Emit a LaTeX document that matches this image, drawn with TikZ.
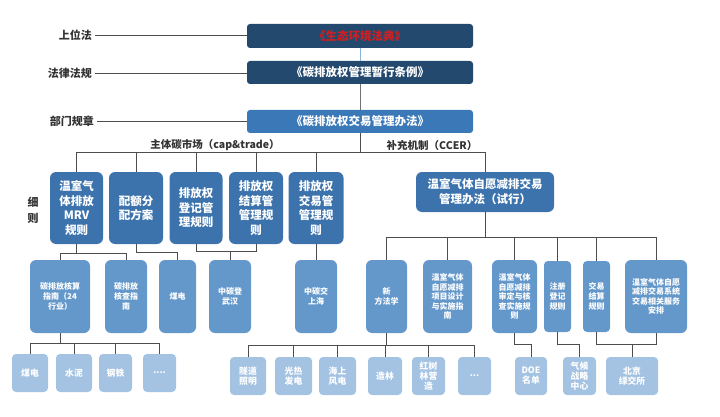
\documentclass[tikz,border=0pt]{standalone}
\usepackage{fontspec}
\newfontfamily\cjk{Noto Sans CJK SC}
\definecolor{navy}{HTML}{24496F}
\definecolor{midblue}{HTML}{3A78B8}
\definecolor{lvthree}{HTML}{3D73AD}
\definecolor{lvfour}{HTML}{6498CB}
\definecolor{lvfive}{HTML}{A4C3E3}
\definecolor{lineC}{HTML}{4D4D4D}
\definecolor{linkblue}{HTML}{8DB3D8}
\definecolor{lawred}{HTML}{D11F1F}
\definecolor{textC}{HTML}{333333}
\begin{document}
\begin{tikzpicture}[x=1pt,y=-1pt,
  every node/.style={font=\cjk},
  conn/.style={draw=lineC, line width=0.9pt},
  topbox/.style={rounded corners=3pt, text=white, inner sep=0pt, minimum width=226pt, minimum height=23pt,
    font=\cjk\bfseries\fontsize{11.5}{14}\selectfont},
  lvl3/.style={fill=lvthree, rounded corners=6pt, text=white, inner sep=0pt, align=center,
    minimum height=72pt, font=\cjk\bfseries\fontsize{11.5}{14.5}\selectfont},
  lvl4/.style={fill=lvfour, rounded corners=6pt, text=white, inner sep=0pt, align=center,
    minimum height=73pt, font=\cjk\bfseries\fontsize{8}{9.6}\selectfont},
  lvl5/.style={fill=lvfive, rounded corners=4pt, text=white, inner sep=0pt, align=center,
    minimum height=38pt, font=\cjk\bfseries\fontsize{8.8}{10}\selectfont},
  sidelab/.style={text=textC, inner sep=3pt, font=\cjk\bfseries\fontsize{11}{13}\selectfont},
  branchlab/.style={text=textC, inner sep=0pt, font=\cjk\bfseries\fontsize{10.5}{12}\selectfont}
]
\useasboundingbox (0,0) rectangle (720,417);

% top three
\node[topbox, fill=navy, minimum height=24pt] (b1) at (360,36) {\textcolor{lawred}{《生态环境法典》}};
\node[topbox, fill=navy] (b2) at (360,72.5) {《碳排放权管理暂行条例》};
\node[topbox, fill=midblue] (b3) at (360,121.5) {《碳排放权交易管理办法》};

% side labels
\node[sidelab, anchor=east] (s1) at (95,35) {上位法};
\node[sidelab, anchor=east] (s2) at (95,73) {法律法规};
\node[sidelab, anchor=east] (s3) at (97,121) {部门规章};
\node[sidelab, align=center, font=\cjk\bfseries\fontsize{11}{16}\selectfont] (s4) at (33,210) {细\\则};

\draw[conn] (s1.east) -- (s1.east -| b1.west);
\draw[conn] (s2.east) -- (s2.east -| b2.west);
\draw[conn] (s3.east) -- (s3.east -| b3.west);
\draw[draw=linkblue, line width=0.8pt] (b1.south) -- (b2.north);
\draw[draw=lineC!80, line width=0.9pt] (b2.south) -- (b3.north);

% branch labels
\node[branchlab] (bl1) at (215,145) {主体碳市场（cap\&trade）};
\node[branchlab] (bl2) at (432,145) {补充机制（CCER）};

% level 3
\node[lvl3, minimum width=53pt] (A) at (76.5,208) {温室气\\体排放\\MRV\\规则};
\node[lvl3, minimum width=54pt] (B) at (136,208) {配额分\\配方案};
\node[lvl3, minimum width=53pt] (C) at (196,208) {排放权\\登记管\\理规则};
\node[lvl3, minimum width=54pt] (D) at (256,208) {排放权\\结算管\\管理规\\则};
\node[lvl3, minimum width=55pt] (E) at (316,208) {排放权\\交易管\\管理规\\则};
\node[lvl3, minimum width=138pt, minimum height=40pt, font=\cjk\bfseries\fontsize{11.5}{15}\selectfont] (CC) at (485,192) {温室气体自愿减排交易\\管理办法（试行）};

% level 4 left
\node[lvl4, minimum width=60pt] (L1) at (60,296.5) {碳排放核算\\指南（24\\行业）};
\node[lvl4, minimum width=42pt] (L2) at (126,296.5) {碳排放\\核查指\\南};
\node[lvl4, minimum width=37pt] (L3) at (177.5,296.5) {煤电};
\node[lvl4, minimum width=42pt] (L4) at (230,296.5) {中碳登\\武汉};
\node[lvl4, minimum width=42pt] (L5) at (316,296.5) {中碳交\\上海};

% level 4 right
\node[lvl4, minimum width=41pt] (R1) at (386.5,296.5) {新\\方法学};
\node[lvl4, minimum width=49pt] (R2) at (447.5,296.5) {温室气体\\自愿减排\\项目设计\\与实施指\\南};
\node[lvl4, minimum width=45pt] (R3) at (514.5,296.5) {温室气体\\自愿减排\\审定与核\\查实施规\\则};
\node[lvl4, minimum width=27pt, minimum height=71pt, rounded corners=4pt] (R4) at (557.5,296.5) {注册\\登记\\规则};
\node[lvl4, minimum width=27pt, minimum height=71pt, rounded corners=4pt] (R5) at (596.5,296.5) {交易\\结算\\规则};
\node[lvl4, minimum width=62pt] (R6) at (656,296.5) {温室气体自愿\\减排交易系统\\交易相关服务\\安排};

% level 5 left
\node[lvl5, minimum width=36pt] (F1) at (30,373) {煤电};
\node[lvl5, minimum width=36pt] (F2) at (74,373) {水泥};
\node[lvl5, minimum width=33pt] (F3) at (115.5,373) {钢铁};
\node[lvl5, minimum width=33pt] (F4) at (159.5,373) {....};

% level 5 right
\node[lvl5, minimum width=36pt] (G1) at (248,376) {隧道\\照明};
\node[lvl5, minimum width=37pt] (G2) at (293.5,376) {光热\\发电};
\node[lvl5, minimum width=37pt] (G3) at (337.5,376) {海上\\风电};
\node[lvl5, minimum width=34pt] (G4) at (385,376) {造林};
\node[lvl5, minimum width=33pt] (G5) at (428.5,376) {红树\\林营\\造};
\node[lvl5, minimum width=33pt] (G6) at (474.5,376) {...};
\node[lvl5, minimum width=32pt] (H1) at (531,376) {DOE\\名单};
\node[lvl5, minimum width=33pt] (H2) at (579.5,376) {气候\\战略\\中心};
\node[lvl5, minimum width=52pt] (H3) at (632,376) {北京\\绿交所};

% connectors: main bus
\coordinate (bus1) at (0,152);
\draw[conn] (b3.south) -- (b3.south |- bus1);
\draw[conn] (A.north |- bus1) -- (CC.north |- bus1);
\foreach \n in {A,B,C,D,E,CC} \draw[conn] (\n.north |- bus1) -- (\n.north);

% CCER bus
\coordinate (bus2) at (0,237);
\draw[conn] (CC.south) -- (CC.south |- bus2);
\draw[conn] (R1.north |- bus2) -- (R6.north |- bus2);
\foreach \n in {R1,R2,R3,R4,R5,R6} \draw[conn] (\n.north |- bus2) -- (\n.north);

% level 3 -> level 4 left
\coordinate (ya) at (0,253);
\draw[conn] (A.south) -- (A.south |- ya);
\draw[conn] (L1.north) -- (L1.north |- ya) -- (L2.north |- ya) -- (L2.north);
\coordinate (yb) at (0,252);
\draw[conn] (B.south) -- (B.south |- yb) -- (L3.north |- yb) -- (L3.north);
\coordinate (yc) at (0,251);
\draw[conn] (C.south) -- (C.south |- yc) -- (D.south |- yc) -- (D.south);
\draw[conn] (L4.north |- yc) -- (L4.north);
\draw[conn] (E.south) -- (L5.north);

% level 4 -> level 5 left
\coordinate (yd) at (0,343);
\draw[conn] (L1.south) -- (L1.south |- yd);
\draw[conn] (F1.north |- yd) -- (F4.north |- yd);
\foreach \n in {F1,F2,F3,F4} \draw[conn] (\n.north |- yd) -- (\n.north);

% level 4 -> level 5 right
\coordinate (ye) at (0,345);
\draw[conn] (R1.south) -- (R1.south |- ye);
\draw[conn] (G1.north |- ye) -- (G6.north |- ye);
\foreach \n in {G1,G2,G3,G4,G5,G6} \draw[conn] (\n.north |- ye) -- (\n.north);

\coordinate (yf) at (0,344);
\draw[conn] (R3.south) -- (R3.south |- yf) -- (H1.north |- yf) -- (H1.north);
\draw[conn] (R4.south) -- (R4.south |- yf) -- (H2.north |- yf) -- (H2.north);
\draw[conn] (R5.south) -- (R5.south |- yf) -- (R6.south |- yf) -- (R6.south);
\draw[conn] (H3.north |- yf) -- (H3.north);
\end{tikzpicture}
\end{document}
